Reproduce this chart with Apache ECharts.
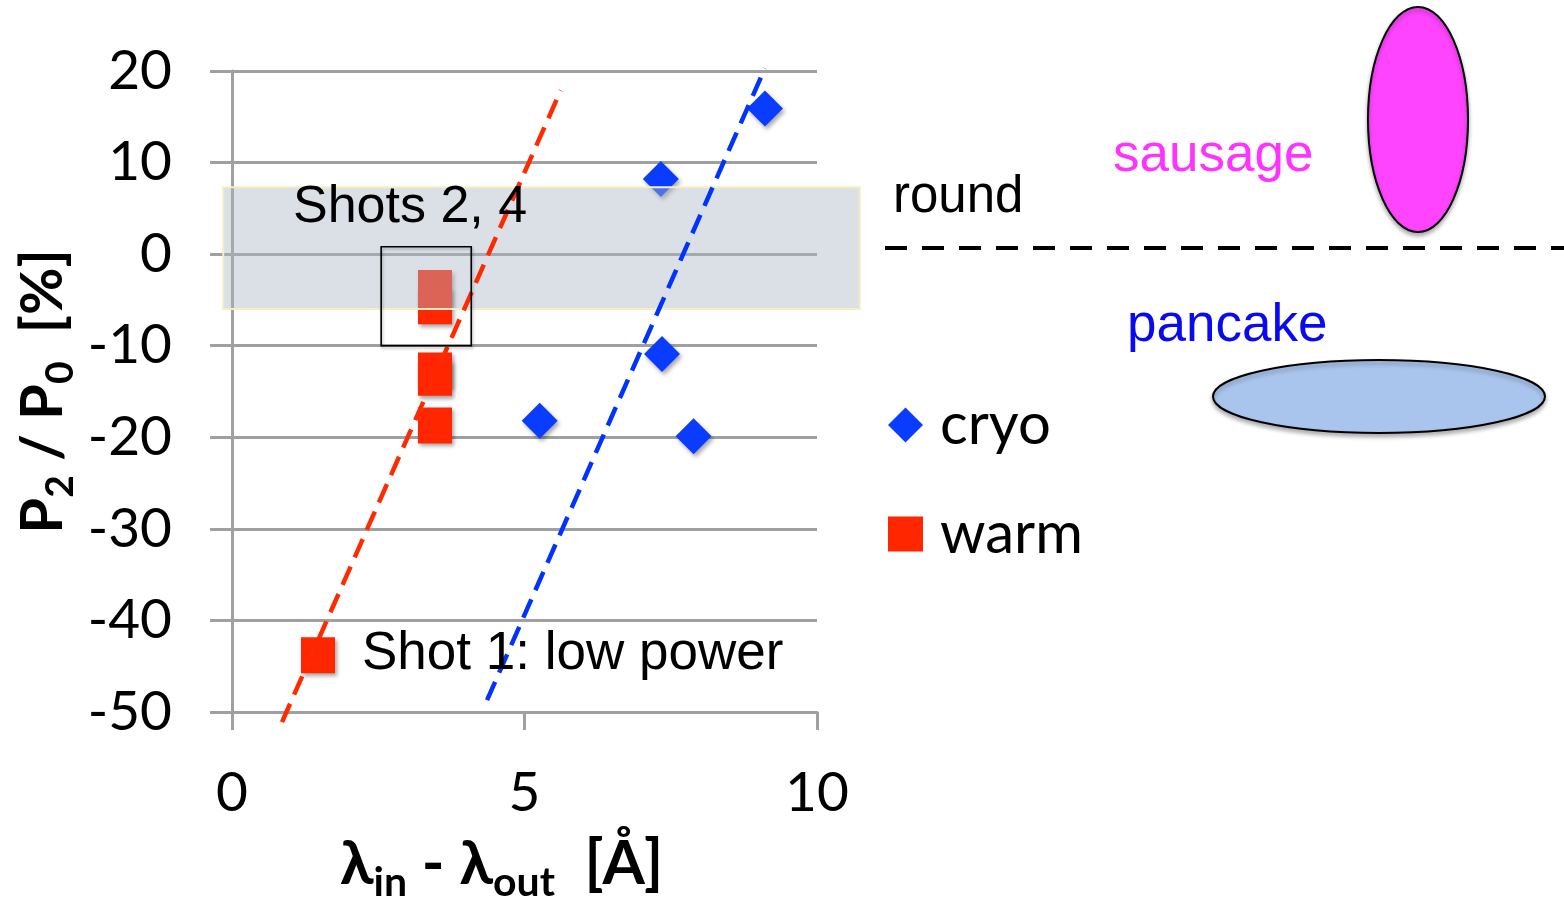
<!DOCTYPE html>
<html>
<head>
<meta charset="utf-8">
<script src="https://cdn.jsdelivr.net/npm/echarts@6/dist/echarts.min.js"></script>
<style>
html,body{margin:0;padding:0;background:#fff;}
#c{width:1564px;height:904px;}
</style>
</head>
<body>
<div id="c"></div>
<script>
// ---- data ----
const xTicks = [0, 5, 10];
const yTicks = [-50, -40, -30, -20, -10, 0, 10, 20];
const cryo = [[9.11, 15.9], [7.33, 8.2], [7.35, -10.9], [5.26, -18.2], [7.89, -19.9]];
const warm = [[3.47, -3.7], [3.47, -5.7], [3.47, -12.7], [3.47, -13.5], [3.47, -18.7], [1.47, -43.8]];
const warmFit = [[0.855, -51.1], [5.62, 17.9]];
const cryoFit = [[4.36, -48.7], [9.11, 20.3]];
const roundBand = [[-0.15, 7.3, 10.73, -6.0]];
const shotsBox = [[2.55, 0.8, 4.09, -10.0]];

const chart = echarts.init(document.getElementById('c'), null, {renderer: 'canvas'});

const calibri = 'Lato, "Open Sans", sans-serif';
const helv = '"Liberation Sans", Arial, sans-serif';

function rectItem(fill, stroke, lw, shadow) {
  return function (params, api) {
    const p0 = api.coord([api.value(0), api.value(1)]);
    const p1 = api.coord([api.value(2), api.value(3)]);
    return {
      type: 'rect',
      shape: {x: p0[0], y: p0[1], width: p1[0] - p0[0], height: p1[1] - p0[1]},
      style: Object.assign({fill: fill, stroke: stroke, lineWidth: lw}, shadow || {})
    };
  };
}

const yRich = {
  b: {fontFamily: calibri, fontSize: 58, fontWeight: 'bold', color: '#000', lineHeight: 58, verticalAlign: 'top'},
  s: {fontFamily: calibri, fontSize: 39, fontWeight: 'bold', color: '#000', lineHeight: 39, padding: [27, 0, 0, 0], verticalAlign: 'top'}
};
const xRich = {
  b: {fontFamily: calibri, fontSize: 61, fontWeight: 'bold', color: '#000', lineHeight: 61, verticalAlign: 'top'},
  s: {fontFamily: calibri, fontSize: 41, fontWeight: 'bold', color: '#000', lineHeight: 41, padding: [28, 0, 0, 0], verticalAlign: 'top'}
};

const option = {
  animation: false,
  backgroundColor: '#fff',
  grid: {left: 232, top: 71, width: 585, height: 641, containLabel: false, outerBoundsMode: 'none'},
  legend: {
    orient: 'vertical',
    left: 888,
    top: 396,
    padding: 0,
    itemWidth: 35,
    itemHeight: 35,
    itemGap: 51,
    itemStyle: {shadowBlur: 0, shadowOffsetX: 0, shadowOffsetY: 0, opacity: 1},
    textStyle: {fontFamily: calibri, fontSize: 58, color: '#000', lineHeight: 54, padding: [0, 0, 0, 12]},
    data: [{name: 'cryo', icon: 'diamond'}, {name: 'warm', icon: 'rect'}]
  },
  xAxis: {
    type: 'value',
    min: xTicks[0],
    max: xTicks[xTicks.length - 1],
    interval: 5,
    axisLine: {show: true, onZero: false, lineStyle: {color: '#a0a0a0', width: 3}},
    axisTick: {show: true, inside: false, length: 18, lineStyle: {color: '#a0a0a0', width: 3}},
    splitLine: {show: false},
    axisLabel: {fontFamily: calibri, fontSize: 55, color: '#000', margin: 54},
    name: '{b|λ}{s|in}{b| - λ}{s|out}{b|  [Å]}',
    nameLocation: 'middle',
    nameGap: 122,
    nameTextStyle: {padding: [0, 46, 0, 0], rich: xRich}
  },
  yAxis: {
    type: 'value',
    min: yTicks[0],
    max: yTicks[yTicks.length - 1],
    interval: 10,
    axisLine: {show: true, onZero: false, lineStyle: {color: '#a0a0a0', width: 3}},
    axisTick: {show: true, inside: false, length: 22, lineStyle: {color: '#a0a0a0', width: 3}},
    splitLine: {show: true, lineStyle: {color: '#a0a0a0', width: 3}},
    axisLabel: {fontFamily: calibri, fontSize: 55, color: '#000', margin: 60},
    name: '{b|P}{s|2}{b| / P}{s|0}{b|  [%]}',
    nameLocation: 'middle',
    nameRotate: 90,
    nameGap: 160,
    nameTextStyle: {rich: yRich}
  },
  series: [
    {
      name: 'cryo', type: 'scatter', z: 2, data: cryo,
      symbol: 'diamond', symbolSize: [36, 36],
      itemStyle: {color: '#0a3cff', opacity: 1, shadowBlur: 4, shadowColor: 'rgba(0,0,0,0.35)', shadowOffsetX: 2, shadowOffsetY: 3}
    },
    {
      name: 'warm', type: 'scatter', z: 2, data: warm,
      symbol: 'rect', symbolSize: [34, 36],
      itemStyle: {color: '#ff2600', opacity: 1, shadowBlur: 4, shadowColor: 'rgba(0,0,0,0.35)', shadowOffsetX: 2, shadowOffsetY: 3}
    },
    {
      name: 'band', type: 'custom', z: 3, silent: true, clip: false,
      data: roundBand,
      encode: {x: [0, 2], y: [1, 3]},
      renderItem: rectItem('rgba(171,183,199,0.43)', '#f3eec4', 2)
    },
    {
      name: 'warmFit', type: 'line', z: 4, data: warmFit, clip: false,
      symbol: 'none', silent: true,
      lineStyle: {color: '#ff2a00', width: 4.5, type: [20, 10]}
    },
    {
      name: 'cryoFit', type: 'line', z: 4, data: cryoFit, clip: false,
      symbol: 'none', silent: true,
      lineStyle: {color: '#0033ff', width: 4.5, type: [20, 10]}
    },
    {
      name: 'box', type: 'custom', z: 5, silent: true, clip: false,
      data: shotsBox,
      encode: {x: [0, 2], y: [1, 3]},
      renderItem: rectItem('none', '#000', 1.6, {shadowBlur: 3, shadowColor: 'rgba(0,0,0,0.3)', shadowOffsetX: 1, shadowOffsetY: 2})
    }
  ],
  graphic: [
    {type: 'text', z: 10, style: {text: 'Shots 2, 4', x: 293, y: 208, font: '52px ' + helv, fill: '#000', verticalAlign: 'middle'}},
    {type: 'text', z: 10, style: {text: 'Shot 1: low power', x: 362, y: 654, font: '53px ' + helv, fill: '#000', verticalAlign: 'middle'}},
    {type: 'text', z: 10, style: {text: 'round', x: 893, y: 198, font: '51px ' + helv, fill: '#000', verticalAlign: 'middle'}},
    {type: 'text', z: 10, style: {text: 'sausage', x: 1113, y: 156, font: '53px ' + helv, fill: '#ff33ff', verticalAlign: 'middle'}},
    {type: 'text', z: 10, style: {text: 'pancake', x: 1127, y: 326, font: '53px ' + helv, fill: '#0a0af0', verticalAlign: 'middle'}},
    {type: 'line', z: 10, shape: {x1: 885, y1: 248, x2: 1564, y2: 248}, style: {stroke: '#000', lineWidth: 4, lineDash: [22, 15]}},
    {type: 'ellipse', z: 10, shape: {cx: 1418, cy: 119.5, rx: 50, ry: 112.5},
      style: {fill: '#ff44ff', stroke: '#000', lineWidth: 2, shadowBlur: 4, shadowColor: 'rgba(0,0,0,0.3)', shadowOffsetY: 3}},
    {type: 'ellipse', z: 10, shape: {cx: 1379, cy: 396.5, rx: 166, ry: 36.5},
      style: {fill: '#a9c5ed', stroke: '#000', lineWidth: 2, shadowBlur: 4, shadowColor: 'rgba(0,0,0,0.3)', shadowOffsetY: 3}}
  ]
};
chart.setOption(option);
</script>
</body>
</html>
